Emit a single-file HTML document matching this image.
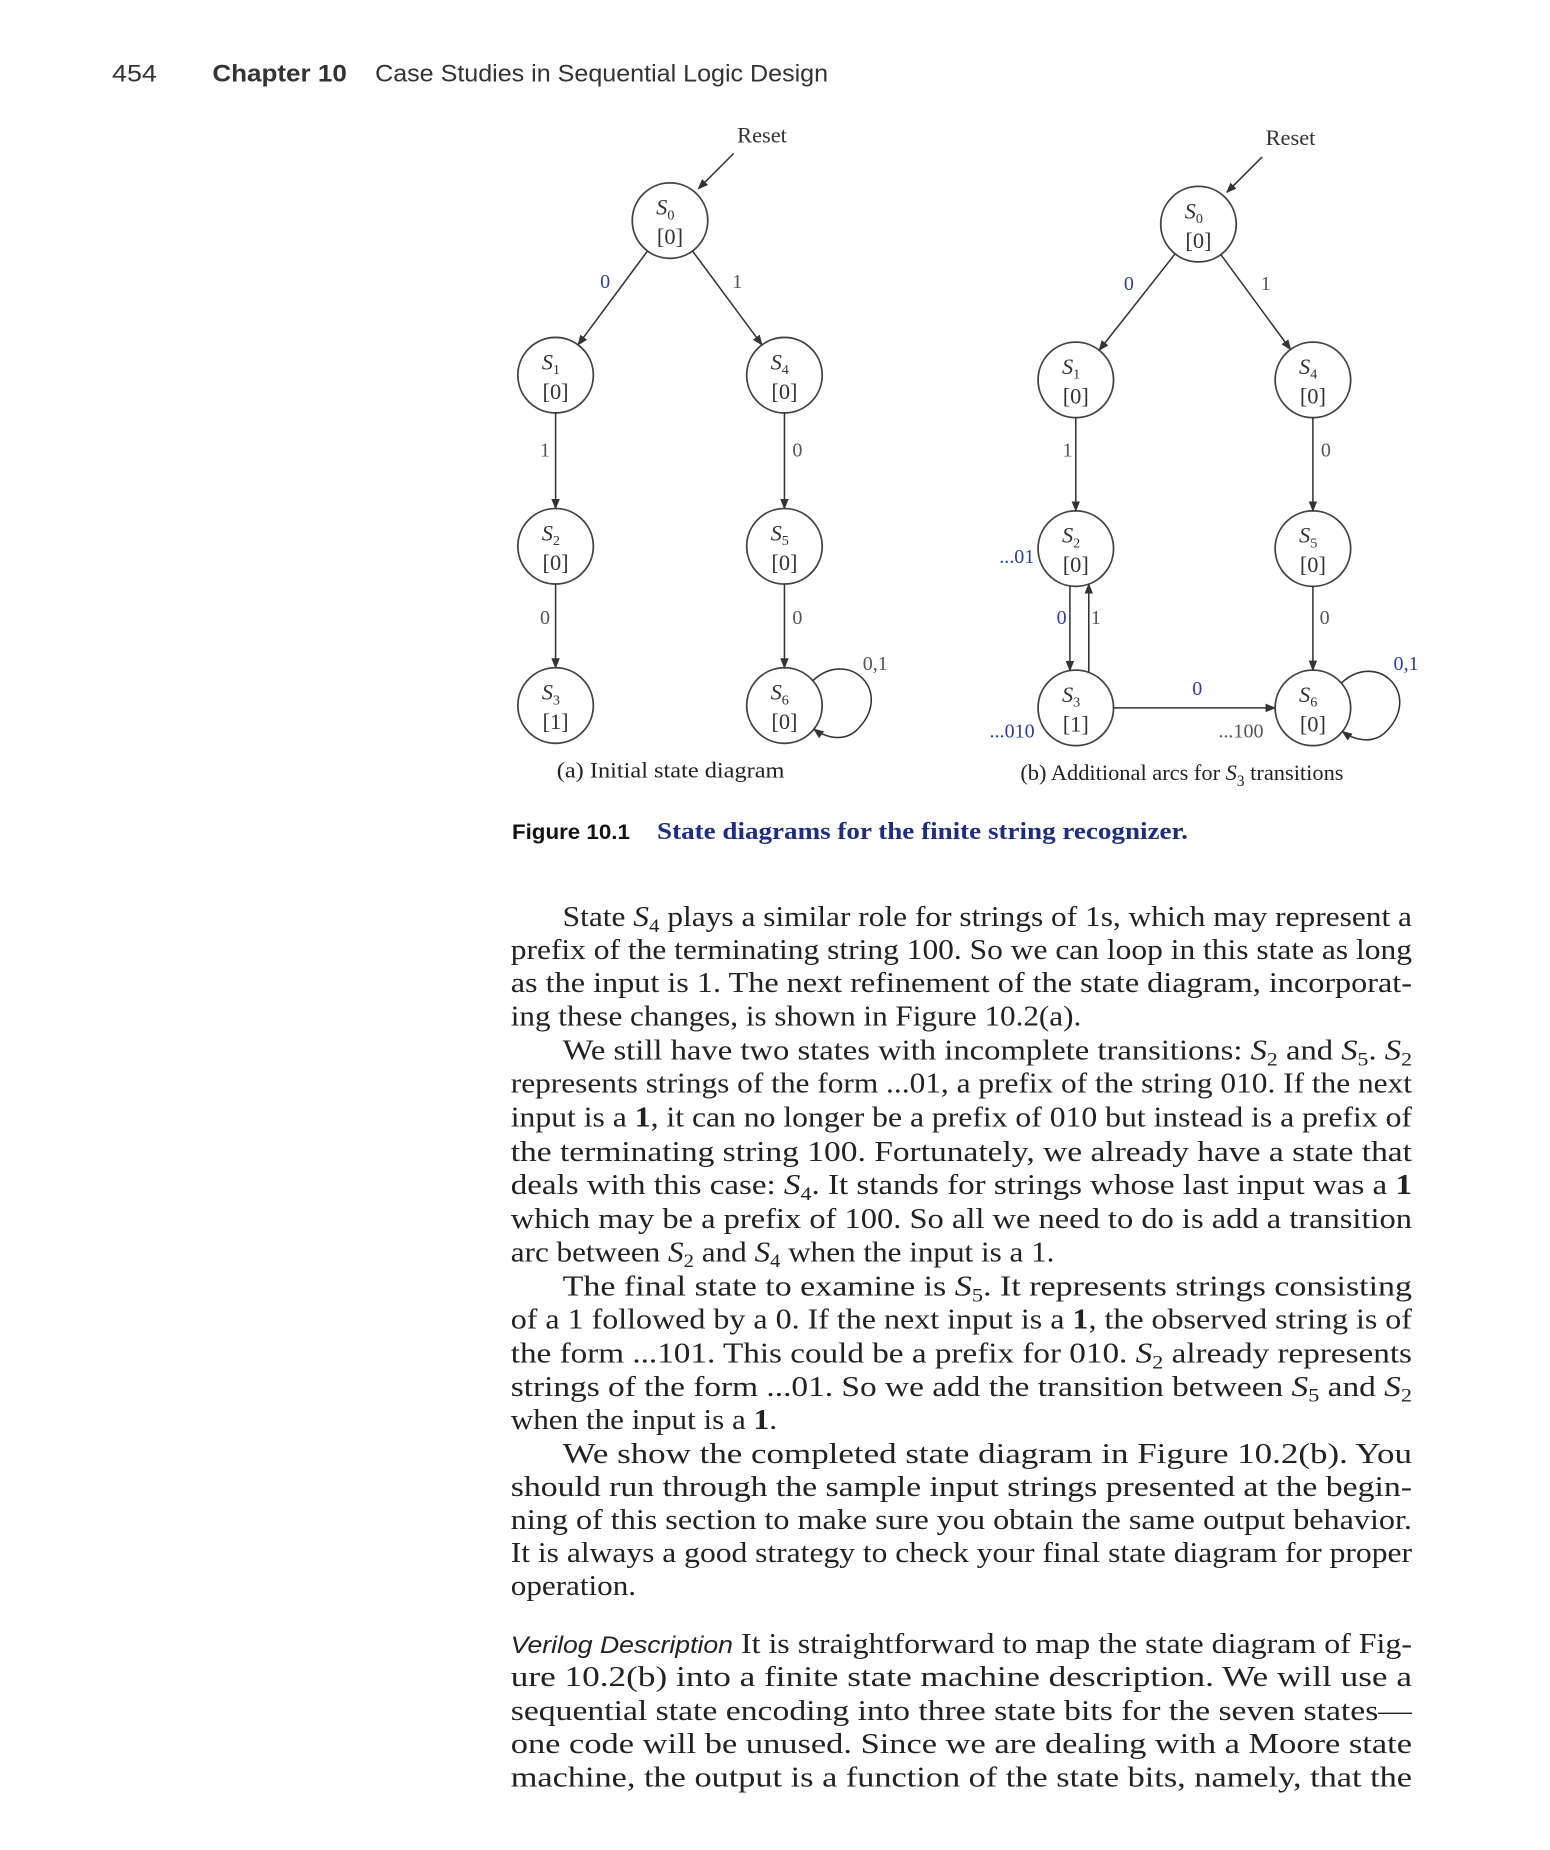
<!DOCTYPE html>
<html><head><meta charset="utf-8"><style>
html,body{margin:0;padding:0;background:#fff;}
svg{display:block;}
.hd{font-family:"Liberation Sans",sans-serif;fill:#333;}
.nd{font-family:"Liberation Serif",serif;font-size:19px;fill:#333;}
.lb{font-family:"Liberation Serif",serif;font-size:17px;fill:#555;}
.bl{fill:#2a3fa0;}
.bt{font-family:"Liberation Serif",serif;font-size:24px;fill:#222;}
.cp{font-family:"Liberation Serif",serif;font-size:19px;fill:#222;}
</style></head><body>
<svg id="pg" width="1550" height="1850" viewBox="0 0 1314 1568" preserveAspectRatio="none" xmlns="http://www.w3.org/2000/svg">
<defs><marker id="ar" viewBox="0 0 10 10" refX="9" refY="5" markerWidth="9" markerHeight="9" markerUnits="userSpaceOnUse" orient="auto"><path d="M0,1 L10,5 L0,9 z" fill="#333"/></marker></defs>
<text class="hd" x="95" y="69" font-size="20" textLength="38" lengthAdjust="spacingAndGlyphs">454</text>
<text class="hd" x="180" y="69" font-size="20" font-weight="bold" textLength="114" lengthAdjust="spacingAndGlyphs">Chapter 10</text>
<text class="hd" x="318" y="69" font-size="20" textLength="384" lengthAdjust="spacingAndGlyphs">Case Studies in Sequential Logic Design</text>
<g id="diag"></g>
<text class="cp" x="472" y="659" textLength="193" lengthAdjust="spacingAndGlyphs">(a) Initial state diagram</text>
<text class="cp" x="865" y="661">(b) Additional arcs for <tspan font-style="italic">S</tspan><tspan font-size="13" dy="5">3</tspan><tspan dy="-5"> transitions</tspan></text>
<text x="434" y="711" font-family="Liberation Sans,sans-serif" font-size="18" font-weight="bold" fill="#111" textLength="100" lengthAdjust="spacingAndGlyphs">Figure 10.1</text>
<text x="557" y="711" font-family="Liberation Serif,serif" font-size="21" font-weight="bold" fill="#1f2d80" textLength="450" lengthAdjust="spacingAndGlyphs">State diagrams for the finite string recognizer.</text>
<g id="body"></g>
</svg>
<script>
const NS="http://www.w3.org/2000/svg";
const D=document.getElementById('diag');
function mk(t,a,p){const e=document.createElementNS(NS,t);for(const k in a)e.setAttribute(k,a[k]);(p||D).appendChild(e);return e;}
const R=32;
const nodesA=[["S0",568,187,"0","0"],["S1",471,318,"1","0"],["S4",665,318,"4","0"],["S2",471,463,"2","0"],["S5",665,463,"5","0"],["S3",471,598,"3","1"],["S6",665,598,"6","0"]];
const nodesB=[["S0",1016,190,"0","0"],["S1",912,322,"1","0"],["S4",1113,322,"4","0"],["S2",912,465,"2","0"],["S5",1113,465,"5","0"],["S3",912,600,"3","1"],["S6",1113,600,"6","0"]];
function drawNodes(list,pre){const m={};for(const n of list){m[n[0]]=n;
const g=mk('g',{});


mk('circle',{cx:n[1],cy:n[2],r:R,fill:'none',stroke:'#444','stroke-width':1.5},g);
const t=mk('text',{x:n[1]-4,y:n[2]-5,'text-anchor':'middle',class:'nd'},g);
t.innerHTML='<tspan font-style="italic">S</tspan><tspan font-size="12" dy="4">'+n[3]+'</tspan>';
const t2=mk('text',{x:n[1],y:n[2]+20,'text-anchor':'middle',class:'nd'},g);
t2.textContent='['+n[4]+']';}return m;}
function edge(m,a,b,pre,dx1,dx2){const A=m[a],B=m[b];let x1=A[1]+(dx1||0),y1=A[2],x2=B[1]+(dx2||0),y2=B[2];
const L=Math.hypot(x2-x1,y2-y1),ux=(x2-x1)/L,uy=(y2-y1)/L;
const r1=Math.sqrt(R*R-(dx1||0)*(dx1||0)),r2=Math.sqrt(R*R-(dx2||0)*(dx2||0));
const l=mk('line',{x1:x1+ux*r1,y1:y1+uy*r1,x2:x2-ux*r2,y2:y2-uy*r2,stroke:'#333','stroke-width':1.3,'marker-end':'url(#ar)'});

}
function label(x,y,s,blue,name){const t=mk('text',{x:x,y:y,class:'lb'+(blue?' bl':''),'text-anchor':'middle'});t.textContent=s;

}
function reset(x,y,px,py,name){const t=mk('text',{x:x,y:y,class:'nd','text-anchor':'middle'});t.textContent='Reset';


mk('line',{x1:px,y1:py,x2:px-30,y2:py+30,stroke:'#333','stroke-width':1.3,'marker-end':'url(#ar)'});}
function loop(n,name){const x=n[1],y=n[2];const p=mk('path',{d:`M${x+24},${y-21} C${x+55},${y-50} ${x+95},${y-10} ${x+60},${y+22} C${x+50},${y+30} ${x+36},${y+28} ${x+25},${y+20}`,fill:'none',stroke:'#333','stroke-width':1.3,'marker-end':'url(#ar)'});

}
const A=drawNodes(nodesA,'a');
edge(A,'S0','S1','a');edge(A,'S0','S4','a');edge(A,'S1','S2','a');edge(A,'S4','S5','a');edge(A,'S2','S3','a');edge(A,'S5','S6','a');
loop(A.S6,'a-self-loop-s6');
reset(646,121,622,130,'a-reset-label');
label(513,244,'0',true,'a-label-0');label(625,244,'1',false,'a-label-1');
label(462,387,'1',false,'a-label-s1-s2');label(676,387,'0',false,'a-label-s4-s5');
label(462,529,'0',false,'a-label-s2-s3');label(676,529,'0',false,'a-label-s5-s6');
label(742,568,'0,1',false,'a-label-loop');
const B=drawNodes(nodesB,'b');
edge(B,'S0','S1','b');edge(B,'S0','S4','b');edge(B,'S1','S2','b');edge(B,'S4','S5','b');edge(B,'S5','S6','b');
edge(B,'S2','S3','b',-5,-5);edge(B,'S3','S2','b',11,11);edge(B,'S3','S6','b');
loop(B.S6,'b-self-loop-s6');
reset(1094,123,1070,133,'b-reset-label');
label(957,246,'0',true,'b-label-0');label(1073,246,'1',false,'b-label-1');
label(905,387,'1',false,'b-label-s1-s2');label(1124,387,'0',false,'b-label-s4-s5');
label(862,477,'...01',true,'b-label-01');
label(900,529,'0',true,'b-label-s2-s3');label(929,529,'1',false,'b-label-s3-s2');label(1123,529,'0',false,'b-label-s5-s6');
label(858,625,'...010',true,'b-label-010');label(1015,589,'0',true,'b-label-s3-s6');label(1052,625,'...100',false,'b-label-100');
label(1192,568,'0,1',true,'b-label-loop');
const BD=document.getElementById('body');
const S=(n)=>'<tspan font-style="italic">S</tspan><tspan font-size="16" dy="5">'+n+'</tspan><tspan dy="-5">';
const E='</tspan>';
const lines=[
[477,777,1,'State '+S(4)+' plays a similar role for strings of 1s, which may represent a'+E],
[433,805,1,'prefix of the terminating string 100. So we can loop in this state as long'],
[433,833,1,'as the input is 1. The next refinement of the state diagram, incorporat-'],
[433,861,0,'ing these changes, is shown in Figure 10.2(a).'],
[477,890,1,'We still have two states with incomplete transitions: '+S(2)+' and '+E+S(5)+'. '+E+S(2)+E],
[433,918,1,'represents strings of the form ...01, a prefix of the string 010. If the next'],
[433,947,1,'input is a <tspan font-weight="bold">1</tspan>, it can no longer be a prefix of 010 but instead is a prefix of'],
[433,976,1,'the terminating string 100. Fortunately, we already have a state that'],
[433,1004,1,'deals with this case: '+S(4)+'. It stands for strings whose last input was a <tspan font-weight="bold">1</tspan>'+E],
[433,1033,1,'which may be a prefix of 100. So all we need to do is add a transition'],
[433,1061,0,'arc between '+S(2)+' and '+E+S(4)+' when the input is a 1.'+E],
[477,1090,1,'The final state to examine is '+S(5)+'. It represents strings consisting'+E],
[433,1118,1,'of a 1 followed by a 0. If the next input is a <tspan font-weight="bold">1</tspan>, the observed string is of'],
[433,1147,1,'the form ...101. This could be a prefix for 010. '+S(2)+' already represents'+E],
[433,1175,1,'strings of the form ...01. So we add the transition between '+S(5)+' and '+E+S(2)+E],
[433,1203,0,'when the input is a <tspan font-weight="bold">1</tspan>.'],
[477,1232,1,'We show the completed state diagram in Figure 10.2(b). You'],
[433,1260,1,'should run through the sample input strings presented at the begin-'],
[433,1288,1,'ning of this section to make sure you obtain the same output behavior.'],
[433,1316,1,'It is always a good strategy to check your final state diagram for proper'],
[433,1344,0,'operation.'],
[433,1393,1,'<tspan font-family="Liberation Sans,sans-serif" font-style="italic" font-size="20">Verilog Description</tspan> It is straightforward to map the state diagram of Fig-'],
[433,1421,1,'ure 10.2(b) into a finite state machine description. We will use a'],
[433,1450,1,'sequential state encoding into three state bits for the seven states—'],
[433,1478,1,'one code will be unused. Since we are dealing with a Moore state'],
[433,1506,1,'machine, the output is a function of the state bits, namely, that the']
];
lines.forEach((l,i)=>{const t=document.createElementNS(NS,'text');
t.setAttribute('class','bt');t.setAttribute('x',l[0]);t.setAttribute('y',l[1]+8);
t.innerHTML=l[3];


BD.appendChild(t);
const w=t.getComputedTextLength();
const target=l[2]?(1197-l[0]):w*1.1;
t.setAttribute('textLength',target);
t.setAttribute('lengthAdjust','spacingAndGlyphs');
});
</script>
</body></html>
